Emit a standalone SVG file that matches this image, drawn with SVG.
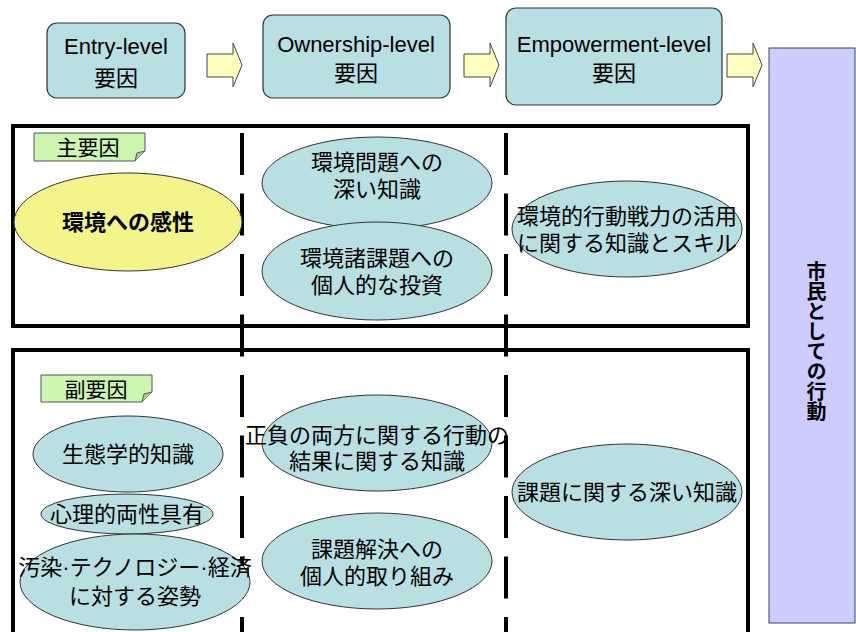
<svg xmlns="http://www.w3.org/2000/svg" width="856" height="632" viewBox="0 0 856 632">
<style>
text{font-family:"Liberation Sans","Noto Sans CJK JP",sans-serif;fill:#000;text-anchor:middle}
.t{font-size:22px}
.e{font-size:22px}
.box{fill:#B8DFE2;stroke:#333;stroke-width:1.2}
.ell{fill:#B8DFE2;stroke:#333;stroke-width:1}
.arr{fill:#FFFFC0;stroke:#444;stroke-width:1}
.frame{fill:none;stroke:#000;stroke-width:4}
.dash{stroke:#000;stroke-width:4;stroke-dasharray:42 18.5}
.lab{fill:#CCF5B0;stroke:#555;stroke-width:1}
</style>
<rect x="0" y="0" width="856" height="632" fill="#fff"/>

<g id="frames">
<rect class="frame" x="13" y="126" width="735" height="200"/>
<rect class="frame" x="13" y="350" width="735" height="300"/>
</g>

<g id="connectors">
<path class="arr" d="M207,54 H233 V43 L242,65 L233,87 V77 H207 Z"/>
<path class="arr" d="M464,54 H490 V43 L499,65 L490,87 V77 H464 Z"/>
<path class="arr" d="M727,54 H753 V43 L762,65 L753,87 V77 H727 Z"/>
<line class="dash" x1="242" y1="133" x2="242" y2="640"/>
<line class="dash" x1="506" y1="133" x2="506" y2="640"/>
</g>

<g id="entry">
<rect class="box" x="47" y="23" width="138" height="75" rx="10"/>
<text class="t" x="116" y="54">Entry-level</text>
<text class="t" x="116" y="86">要因</text>
</g>
<g id="ownership">
<rect class="box" x="263" y="15" width="187" height="83" rx="10"/>
<text class="t" x="356" y="52">Ownership-level</text>
<text class="t" x="356" y="81">要因</text>
</g>
<g id="empowerment">
<rect class="box" x="506" y="8" width="216" height="97" rx="10"/>
<text class="t" x="614" y="52">Empowerment-level</text>
<text class="t" x="614" y="81">要因</text>
</g>

<g id="citizen">
<rect x="769" y="48" width="86" height="575" fill="#CCCCFF" stroke="#444" stroke-width="1"/>
<text x="815" y="341" style="writing-mode:vertical-rl;font-size:20px;font-weight:bold">市民としての行動</text>
</g>

<g id="label-main">
<path class="lab" d="M34,133 H145 V151 L135,161 H34 Z"/>
<path d="M135,161 L137,153 L145,151" fill="#A8D090" stroke="#555" stroke-width="1"/>
<text x="88" y="155" style="font-size:21px">主要因</text>
</g>
<g id="label-sub">
<path class="lab" d="M41,375 H152 V392 L142,402 H41 Z"/>
<path d="M142,402 L144,394 L152,392" fill="#A8D090" stroke="#555" stroke-width="1"/>
<text x="96" y="397" style="font-size:21px">副要因</text>
</g>

<g id="sensitivity">
<ellipse cx="128" cy="222" rx="114" ry="49" fill="#F3F58B" stroke="#333" stroke-width="1"/>
<text class="e" x="128" y="230" style="font-weight:bold">環境への感性</text>
</g>
<g id="deep-knowledge-env">
<ellipse class="ell" cx="377" cy="183" rx="115" ry="46"/>
<text class="e" x="377" y="170">環境問題への</text>
<text class="e" x="377" y="197">深い知識</text>
</g>
<g id="personal-investment">
<ellipse class="ell" cx="377" cy="271" rx="115" ry="49"/>
<text class="e" x="377" y="266">環境諸課題への</text>
<text class="e" x="377" y="293">個人的な投資</text>
</g>
<g id="strategy-skill">
<ellipse class="ell" cx="627" cy="229" rx="115" ry="48"/>
<text class="e" x="627" y="224">環境的行動戦力の活用</text>
<text class="e" x="627" y="251">に関する知識とスキル</text>
</g>

<g id="ecology">
<ellipse class="ell" cx="128" cy="454" rx="95" ry="38"/>
<text class="e" x="128" y="462">生態学的知識</text>
</g>
<g id="androgyny">
<ellipse class="ell" cx="127" cy="514" rx="86" ry="20"/>
<text class="e" x="127" y="522">心理的両性具有</text>
</g>
<g id="attitude">
<ellipse class="ell" cx="135" cy="582" rx="115" ry="48"/>
<text class="e" x="135" y="575">汚染·テクノロジー·経済</text>
<text class="e" x="135" y="604">に対する姿勢</text>
</g>
<g id="consequences">
<ellipse class="ell" cx="377" cy="443" rx="115" ry="48"/>
<text class="e" x="377" y="443">正負の両方に関する行動の</text>
<text class="e" x="377" y="469">結果に関する知識</text>
</g>
<g id="commitment">
<ellipse class="ell" cx="377" cy="561" rx="115" ry="48"/>
<text class="e" x="377" y="557">課題解決への</text>
<text class="e" x="377" y="584">個人的取り組み</text>
</g>
<g id="issue-knowledge">
<ellipse class="ell" cx="627" cy="492" rx="115" ry="48"/>
<text class="e" x="627" y="500">課題に関する深い知識</text>
</g>
</svg>
